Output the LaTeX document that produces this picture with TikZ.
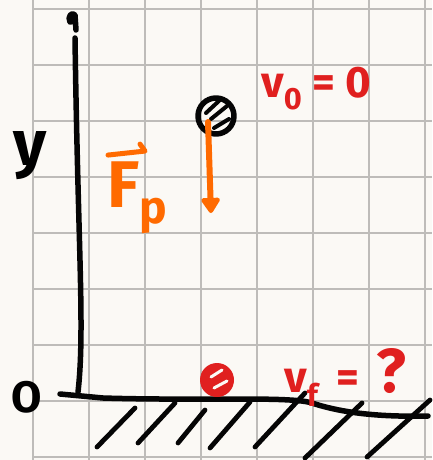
\documentclass[tikz,border=0pt]{standalone}
\usepackage{fontspec}
\setmainfont{Fira Sans}
\usepackage{tikz}
\usetikzlibrary{calc,arrows.meta}
\definecolor{paper}{HTML}{FBF9F5}
\definecolor{gridc}{HTML}{BEBCB9}
\definecolor{inkc}{HTML}{050505}
\definecolor{forcec}{HTML}{FF6A00}
\definecolor{velc}{HTML}{E0201F}
\tikzset{
  gridl/.style={gridc,line width=1.2pt},
  ink/.style={inkc,line width=5.5pt,line cap=round,line join=round},
  hatch/.style={inkc,line width=4.8pt,line cap=round},
  far/.style={-{Triangle[length=17pt,width=21pt,round]},forcec,line width=6pt,line cap=round},
  lbl/.style={inner sep=0pt,font=\bfseries\fontsize{44}{44}\selectfont}
}
\begin{document}
\begin{tikzpicture}[x=1pt,y=-1pt]
\useasboundingbox (0,0) rectangle (432,460);
\fill[paper] (0,0) rectangle (432,460);
\foreach \gx in {33,89,...,425} \draw[gridl] (\gx,0)--(\gx,460);
\foreach \gy in {9,65,...,457} \draw[gridl] (33,\gy)--(432,\gy);
% axis
\coordinate (ytop) at (75,38); \coordinate (ybot) at (78,392);
\draw[ink] (76,30)--(75,15) .. controls (72,11) and (67,17) .. (70,22) -- (75,21);
\draw[ink] (ytop) .. controls (78,250) and (85,330) .. (ybot);
\node[lbl,font=\bfseries\fontsize{64}{64}\selectfont,anchor=base] (ylbl) at (30,165) {y};
\node[lbl,anchor=base] (olbl) at (27,412) {O};
% ground
\coordinate (g0) at (60,394); \coordinate (g1) at (103,398); \coordinate (g2) at (428,416);
\draw[ink] (g0)--(g1) .. controls (200,401) and (290,396) .. (312,403) .. controls (345,414) and (385,417) .. (g2);
\foreach \ax/\ay/\bx/\by in {97/447/135/408,138/443/175/403,178/443/205/410,210/448/250/402,255/447/305/393,305/458/362/403,367/457/430/400}
  \draw[hatch] (\ax,\ay)--(\bx,\by);
% top ball
\coordinate (btop) at (216,116);
\draw[ink] (btop) circle (18);
\foreach \ax/\ay/\bx/\by in {206/113/221/99,211/119/227/106,214/128/229/119}
  \draw[inkc,line width=4pt,line cap=round] (\ax,\ay)--(\bx,\by);
\coordinate (ftail) at (208,122); \coordinate (fhead) at (211,213);
\draw[far] (ftail)--(fhead);
\node[lbl,forcec,font=\bfseries\fontsize{66}{66}\selectfont,anchor=base west] (flbl) at (107,207) {F\textsubscript{p}};
\draw[forcec,line width=5pt,line cap=round,line join=round] ($(flbl.north west)+(1,-6)$) -- ($(flbl.north west)+(38,-10)$) -- ($(flbl.north west)+(33,-17)$);
\node[lbl,velc,anchor=base west] (v0) at (261,97) {v\textsubscript{0} = 0};
% bottom ball
\coordinate (bbot) at (217,380);
\fill[velc] (bbot) circle (17);
\foreach \ax/\ay/\bx/\by in {211/377/222/370,214/388/227/381}
  \draw[paper,line width=3pt,line cap=round] (\ax,\ay)--(\bx,\by);
\node[lbl,velc,anchor=base west] (vf) at (284,392) {v\textsubscript{f} \,= \,{\fontsize{62}{62}\selectfont ?}};
\end{tikzpicture}
\end{document}
